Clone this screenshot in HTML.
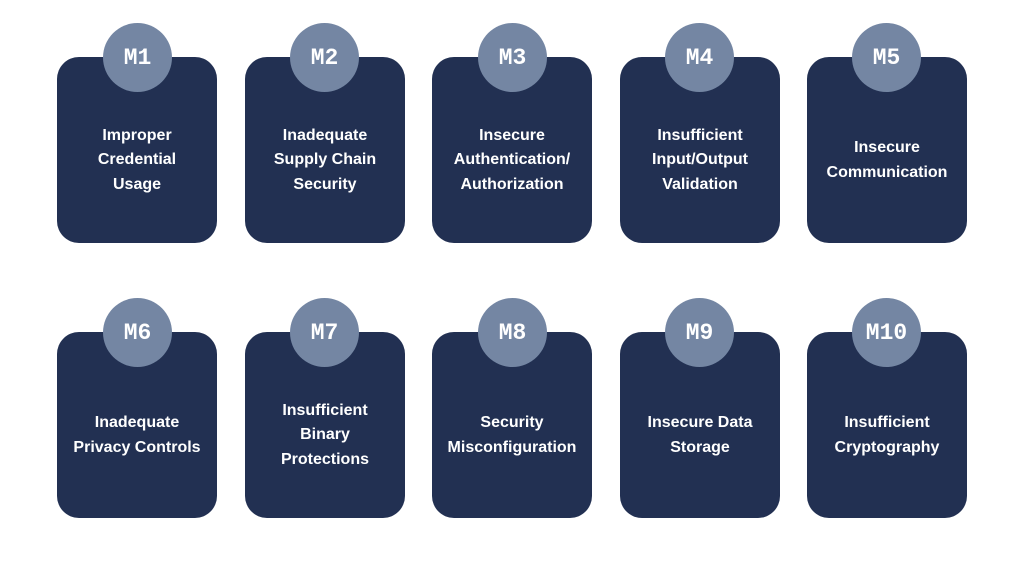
<!DOCTYPE html>
<html><head><style>
body{margin:0;width:1024px;height:576px;background:#fff;position:relative;overflow:hidden}
.c{position:absolute;width:160px;height:186px;background:#223052;border-radius:22px;color:#fff;font-family:"Liberation Sans",sans-serif;font-size:16px;font-weight:bold;line-height:24.5px;text-align:center;display:flex;align-items:center;justify-content:center}
.c span{margin-top:21px}
.b{position:absolute;width:69px;height:69px;border-radius:50%;background:#7486a3;color:#fff;font-family:"Liberation Mono",monospace;font-weight:bold;font-size:23px;display:flex;align-items:center;justify-content:center}
</style></head><body>
<div class="c" style="left:57px;top:57px"><span>Improper<br>Credential<br>Usage</span></div>
<div class="c" style="left:245px;top:57px"><span>Inadequate<br>Supply Chain<br>Security</span></div>
<div class="c" style="left:432px;top:57px"><span>Insecure<br>Authentication/<br>Authorization</span></div>
<div class="c" style="left:620px;top:57px"><span>Insufficient<br>Input/Output<br>Validation</span></div>
<div class="c" style="left:807px;top:57px"><span>Insecure<br>Communication</span></div>
<div class="c" style="left:57px;top:332px"><span>Inadequate<br>Privacy Controls</span></div>
<div class="c" style="left:245px;top:332px"><span>Insufficient<br>Binary<br>Protections</span></div>
<div class="c" style="left:432px;top:332px"><span>Security<br>Misconfiguration</span></div>
<div class="c" style="left:620px;top:332px"><span>Insecure Data<br>Storage</span></div>
<div class="c" style="left:807px;top:332px"><span>Insufficient<br>Cryptography</span></div>
<div class="b" style="left:103px;top:23px">M1</div>
<div class="b" style="left:290px;top:23px">M2</div>
<div class="b" style="left:478px;top:23px">M3</div>
<div class="b" style="left:665px;top:23px">M4</div>
<div class="b" style="left:852px;top:23px">M5</div>
<div class="b" style="left:103px;top:298px">M6</div>
<div class="b" style="left:290px;top:298px">M7</div>
<div class="b" style="left:478px;top:298px">M8</div>
<div class="b" style="left:665px;top:298px">M9</div>
<div class="b" style="left:852px;top:298px">M10</div>
</body></html>
